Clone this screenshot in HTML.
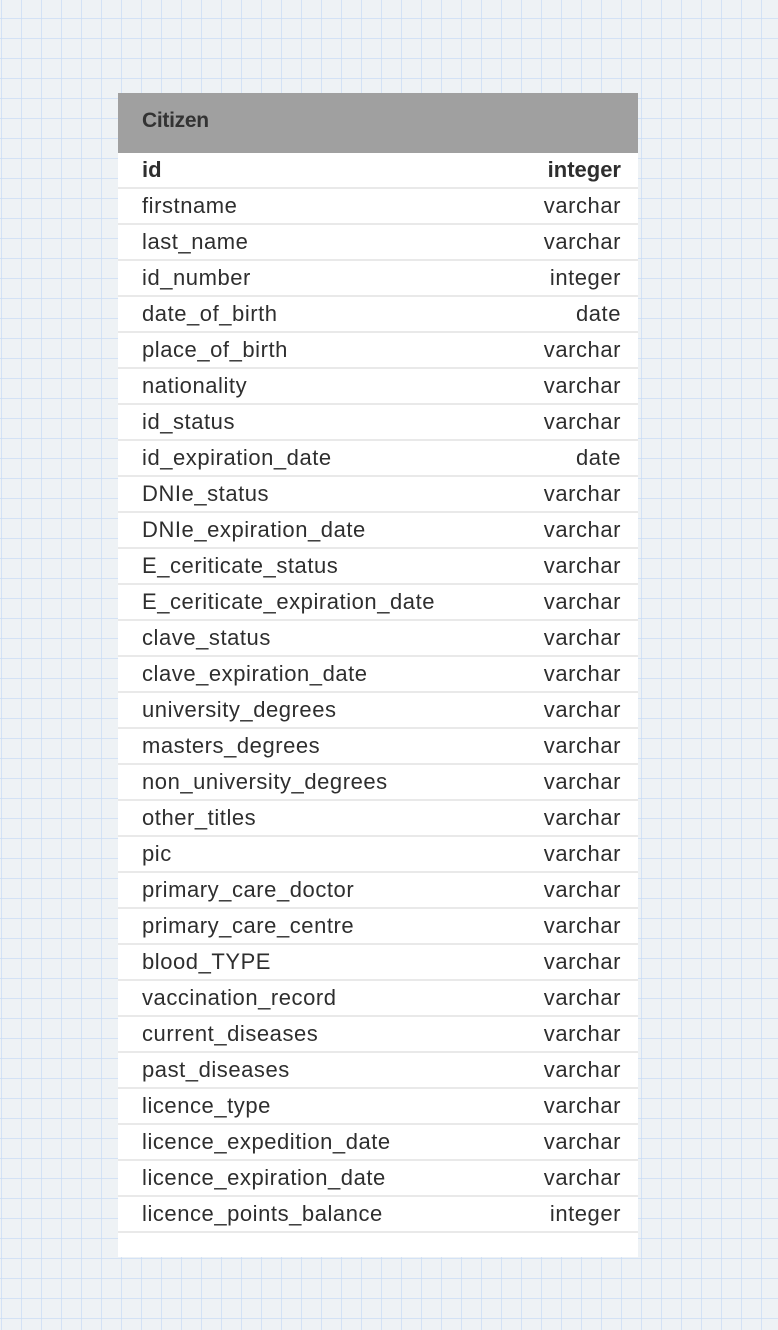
<!DOCTYPE html>
<html><head><style>
html,body{margin:0;padding:0}
body{width:778px;height:1330px;overflow:hidden;position:relative;background-color:#eef2f5;
background-image:linear-gradient(to right,rgba(200,220,245,.7) 1px,transparent 1px),linear-gradient(to bottom,rgba(200,220,245,.7) 1px,transparent 1px);
background-size:20px 20px;background-position:1px 18px;font-family:"Liberation Sans",sans-serif}
.t{position:absolute;left:118px;top:93px;width:520px;background:#fff}
.h{height:60px;background:#a0a0a0;color:#333;font-size:21px;font-weight:bold;line-height:56px;padding-left:24px;letter-spacing:-0.3px}
.r{height:34px;border-bottom:2px solid #e9e9e9;display:flex;justify-content:space-between;align-items:center;padding:0 17px 0 24px;font-size:22px;color:#2e2e2e;letter-spacing:0.55px}
.b{font-weight:bold;letter-spacing:0}
.f{height:24px}
</style></head><body>
<div class="t">
<div class="h">Citizen</div>
<div class="r b"><span>id</span><span>integer</span></div>
<div class="r"><span>firstname</span><span>varchar</span></div>
<div class="r"><span>last_name</span><span>varchar</span></div>
<div class="r"><span>id_number</span><span>integer</span></div>
<div class="r"><span>date_of_birth</span><span>date</span></div>
<div class="r"><span>place_of_birth</span><span>varchar</span></div>
<div class="r"><span>nationality</span><span>varchar</span></div>
<div class="r"><span>id_status</span><span>varchar</span></div>
<div class="r"><span>id_expiration_date</span><span>date</span></div>
<div class="r"><span>DNIe_status</span><span>varchar</span></div>
<div class="r"><span>DNIe_expiration_date</span><span>varchar</span></div>
<div class="r"><span>E_ceriticate_status</span><span>varchar</span></div>
<div class="r"><span>E_ceriticate_expiration_date</span><span>varchar</span></div>
<div class="r"><span>clave_status</span><span>varchar</span></div>
<div class="r"><span>clave_expiration_date</span><span>varchar</span></div>
<div class="r"><span>university_degrees</span><span>varchar</span></div>
<div class="r"><span>masters_degrees</span><span>varchar</span></div>
<div class="r"><span>non_university_degrees</span><span>varchar</span></div>
<div class="r"><span>other_titles</span><span>varchar</span></div>
<div class="r"><span>pic</span><span>varchar</span></div>
<div class="r"><span>primary_care_doctor</span><span>varchar</span></div>
<div class="r"><span>primary_care_centre</span><span>varchar</span></div>
<div class="r"><span>blood_TYPE</span><span>varchar</span></div>
<div class="r"><span>vaccination_record</span><span>varchar</span></div>
<div class="r"><span>current_diseases</span><span>varchar</span></div>
<div class="r"><span>past_diseases</span><span>varchar</span></div>
<div class="r"><span>licence_type</span><span>varchar</span></div>
<div class="r"><span>licence_expedition_date</span><span>varchar</span></div>
<div class="r"><span>licence_expiration_date</span><span>varchar</span></div>
<div class="r"><span>licence_points_balance</span><span>integer</span></div>
<div class="f"></div>
</div>
</body></html>
